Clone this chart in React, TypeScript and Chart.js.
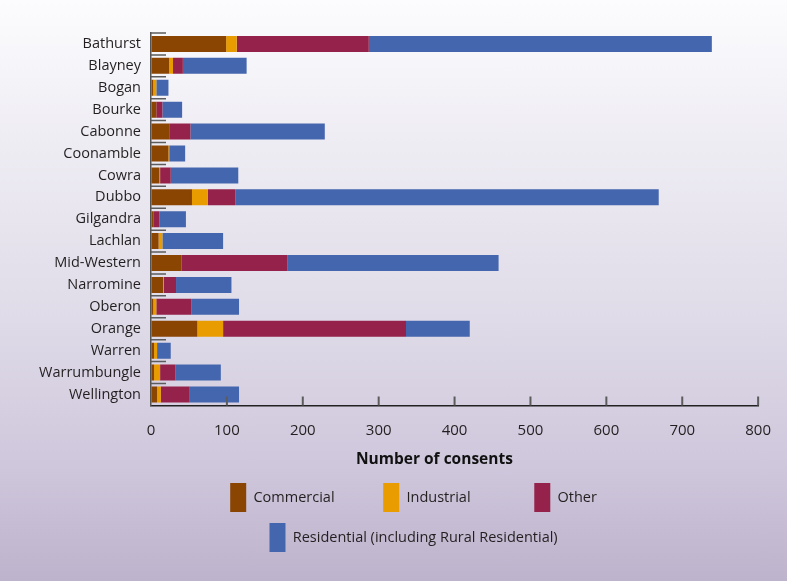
import React, { useEffect, useRef } from "react";
import { Chart, registerables } from "chart.js";

Chart.register(...registerables);

// ---- data ----
const councils = [
  "Bathurst", "Blayney", "Bogan", "Bourke", "Cabonne", "Coonamble", "Cowra", "Dubbo",
  "Gilgandra", "Lachlan", "Mid-Western", "Narromine", "Oberon", "Orange", "Warren",
  "Warrumbungle", "Wellington",
];
const commercial = [99, 24, 3, 7, 24, 23, 11, 54, 3, 10, 40, 16, 3, 61, 4, 4, 8];
const industrial = [14, 5, 4, 0, 0, 1, 1, 21, 0, 5, 0, 1, 4, 34, 4, 8, 5];
const other = [174, 13, 0, 8, 28, 0, 14, 36, 8, 0, 140, 16, 46, 241, 0, 20, 38];
const residential = [452, 84, 16, 26, 177, 21, 89, 558, 35, 80, 278, 73, 63, 84, 18, 60, 65];
const seriesNames = ["Commercial", "Industrial", "Other", "Residential (including Rural Residential)"];
const xTicksMax = 800;
const xTicksStep = 100;
const xTitle = "Number of consents";

const FONT = "'Open Sans', 'Noto Sans', sans-serif";
const TEXT = "#231f20";

function padToWidth(text: string, font: string, target: number): string {
  const c = document.createElement("canvas").getContext("2d");
  if (!c) return text;
  c.font = font;
  let t = text;
  let guard = 0;
  while (c.measureText(t).width < target && guard < 80) {
    t += " ";
    guard++;
  }
  return t;
}

const innerTicks = {
  id: "innerTicks",
  afterLayout(chart: any) {
    const lg = chart.legend;
    if (lg) {
      const shift = 41;
      lg.left -= shift;
      lg.right -= shift;
    }
  },
  afterDatasetsDraw(chart: any) {
    const { ctx, chartArea, scales } = chart;
    const x = scales.x;
    const y = scales.y;
    ctx.save();
    ctx.strokeStyle = "#5c5c5c";
    ctx.lineWidth = 1.5;
    ctx.beginPath();
    const n = y.ticks.length;
    for (let i = 0; i < n; i++) {
      const p = i === 0 ? chartArea.top : (y.getPixelForValue(i - 1) + y.getPixelForValue(i)) / 2;
      ctx.moveTo(chartArea.left, p);
      ctx.lineTo(chartArea.left + 15, p);
    }
    ctx.stroke();
    ctx.lineWidth = 2;
    ctx.beginPath();
    x.ticks.forEach((t: any) => {
      if (t.value === 0) return;
      const px = x.getPixelForValue(t.value);
      ctx.moveTo(px, chartArea.bottom);
      ctx.lineTo(px, chartArea.bottom - 9);
    });
    ctx.stroke();
    ctx.restore();
  },
};

export default function App() {
  const ref = useRef<HTMLCanvasElement | null>(null);

  useEffect(() => {
    if (!ref.current) return;
    const legendFont = `14.5px ${FONT}`;
    const legendTargets = [118, 114, 0, 0];
    const titleFontStr = `bold 15.5px ${FONT}`;
    const c = document.createElement("canvas").getContext("2d");
    let titleText = xTitle;
    if (c) {
      c.font = titleFontStr;
      const w = c.measureText(xTitle).width;
      titleText = padToWidth(xTitle, titleFontStr, w + 39);
    }

    const chart = new Chart(ref.current, {
      type: "bar",
      data: {
        labels: councils,
        datasets: [
          { label: seriesNames[0], data: commercial, backgroundColor: "#8b4503" },
          { label: seriesNames[1], data: industrial, backgroundColor: "#e89c00" },
          { label: seriesNames[2], data: other, backgroundColor: "#95224a" },
          { label: seriesNames[3], data: residential, backgroundColor: "#4466ae" },
        ],
      },
      options: {
        indexAxis: "y",
        responsive: false,
        animation: false,
        maintainAspectRatio: false,
        datasets: { bar: { barPercentage: 0.73, categoryPercentage: 1, borderWidth: 0 } },
        layout: { padding: { top: 33, left: 28, right: 28, bottom: 19 } },
        plugins: {
          tooltip: { enabled: false },
          legend: {
            position: "bottom",
            fullSize: false,
            labels: {
              boxWidth: 16,
              boxHeight: 29,
              padding: 11,
              color: TEXT,
              font: { family: FONT, size: 14.5 },
              generateLabels: (ch: any) => {
                const items = (Chart.defaults.plugins.legend.labels as any).generateLabels(ch);
                items.forEach((it: any, i: number) => {
                  it.text = padToWidth(it.text, legendFont, legendTargets[i] || 0);
                  it.lineWidth = 0;
                });
                return items;
              },
            },
          },
        },
        scales: {
          x: {
            stacked: true,
            min: 0,
            max: xTicksMax,
            grid: { drawOnChartArea: false, drawTicks: false },
            border: { display: true, color: "#222", width: 1.5 },
            ticks: { stepSize: xTicksStep, padding: 16, color: TEXT, font: { family: FONT, size: 15 } },
            title: {
              display: true,
              text: titleText,
              color: "#111",
              font: { family: FONT, size: 15.5, weight: "bold" },
              padding: { top: -5, bottom: 3 },
            },
          },
          y: {
            stacked: true,
            grid: { drawOnChartArea: false, drawTicks: false },
            border: { display: true, color: "#555", width: 1.5 },
            ticks: { autoSkip: false, padding: 10, color: TEXT, font: { family: FONT, size: 14.5 } },
            afterFit: (scale: any) => {
              scale.width = 123;
            },
          },
        },
      },
      plugins: [innerTicks],
    });
    return () => chart.destroy();
  }, []);

  return (
    <div
      style={{
        position: "fixed",
        left: 0,
        top: 0,
        width: 787,
        height: 581,
        background: "linear-gradient(180deg, #fcfcfe 0%, #eeecf3 25%, #dfdbe8 55%, #cfc7dc 80%, #bdb3cc 100%)",
      }}
    >
      <canvas ref={ref} width={787} height={581} style={{ display: "block" }} />
    </div>
  );
}
